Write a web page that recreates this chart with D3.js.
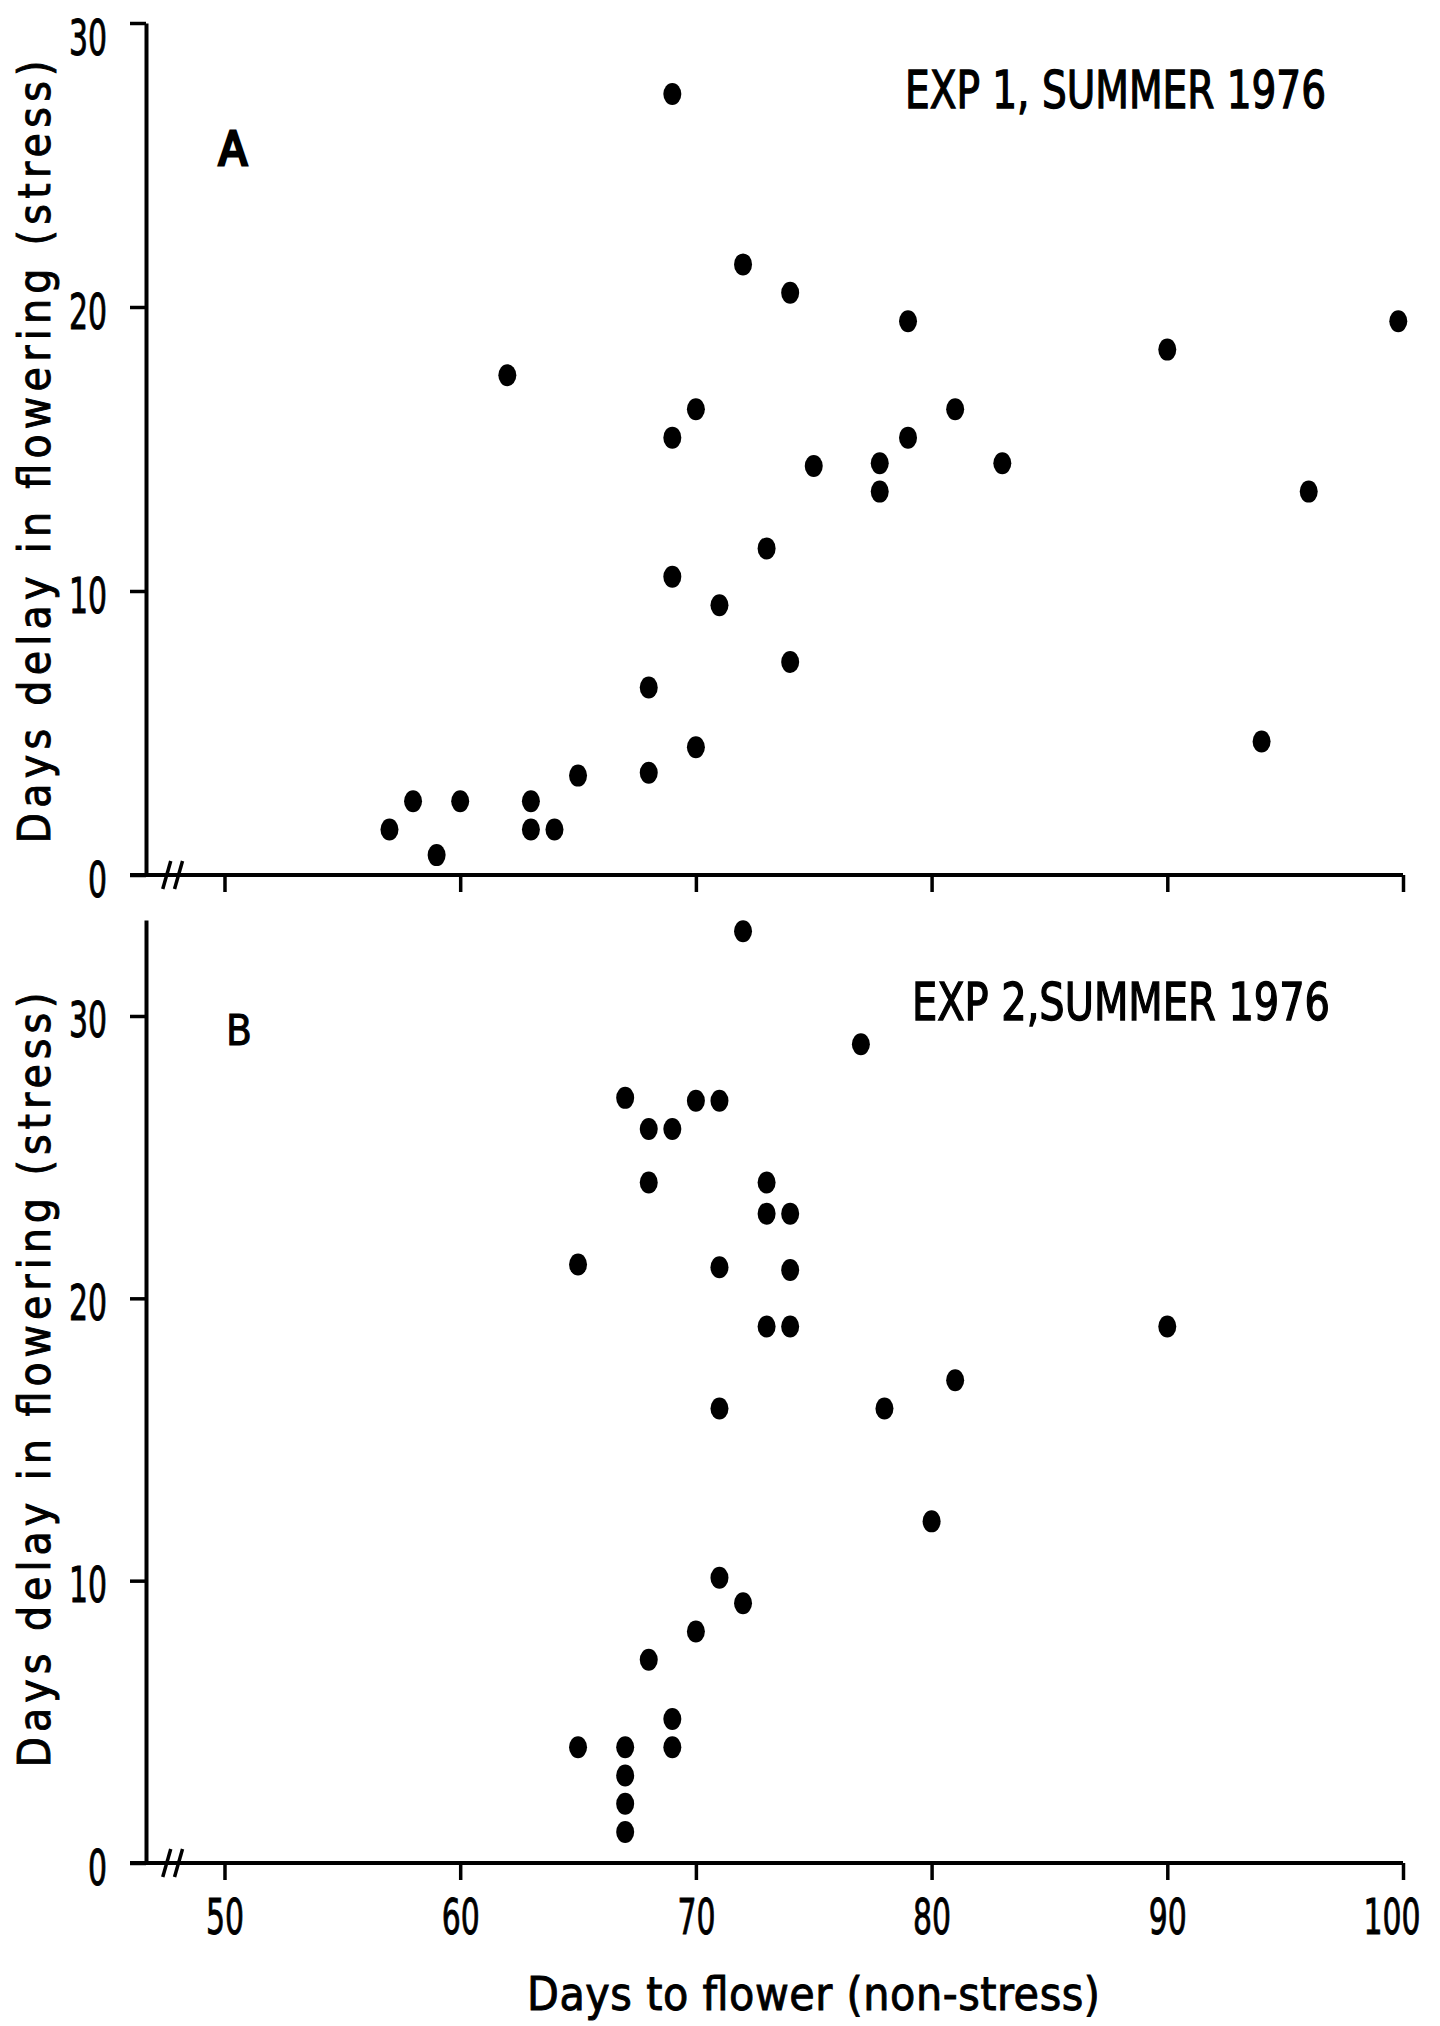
<!DOCTYPE html>
<html>
<head>
<meta charset="utf-8">
<title>Days delay in flowering</title>
<style>
  body { margin:0; background:#fff; }
  svg text { font-family:"DejaVu Sans Condensed","DejaVu Sans",sans-serif; fill:#000; stroke:#000; stroke-width:0.9px; }
  .axis path { stroke:#000; stroke-width:4; }
  .axis line { stroke:#000; stroke-width:3.5; }
  .axis text { font-size:50px; }
</style>
</head>
<body>
<div id="chart"></div>
<script src="https://d3js.org/d3.v7.min.js"></script>
<script>
// values
var exp1Days  = [69,72,74,79,62,70,69,81,75,77.8,79,83,77.8,73,69,71,68,74,70,68,65,57,58,59,60,63,63,64,90,99.8,96,94];
var exp1Delay = [27.5,21.5,20.5,19.5,17.6,16.4,15.4,16.4,14.4,14.5,15.4,14.5,13.5,11.5,10.5,9.5,6.6,7.5,4.5,3.6,3.5,1.6,2.6,0.7,2.6,2.6,1.6,1.6,18.5,19.5,13.5,4.7];
var exp2Days  = [72,77,67,70,71,68,69,68,73,73,74,65,71,74,73,74,90,71,78,81,80,71,72,70,68,69,65,67,69,67,67,67];
var exp2Delay = [33,29,27.1,27,27,26,26,24.1,24.1,23,23,21.2,21.1,21,19,19,19,16.1,16.1,17.1,12.1,10.1,9.2,8.2,7.2,5.1,4.1,4.1,4.1,3.1,2.1,1.1];
var xTicks = [50,60,70,80,90,100];
var yTicks = [0,10,20,30];
var yLabel = "Days delay in flowering (stress)";
var xLabel = "Days to flower (non-stress)";

var W = 1440, H = 2026;
var svg = d3.select("#chart").append("svg").attr("width", W).attr("height", H);

// shared x scale (axis starts a bit before 50, where the break is)
var x = d3.scaleLinear().domain([46.67, 100]).range([146, 1403]);

var panels = [
  {days: exp1Days, delay: exp1Delay, yTop: 30,   y0: 875,  y1: 23,  title: "EXP 1, SUMMER 1976", tx: 905, ty: 108, tw: 421,
   letter: "A", lx: 233, ly: 165, lsize: 46, labelY: 452, labelLen: 783, showX: false},
  {days: exp2Days, delay: exp2Delay, yTop: 33.4, y0: 1863, y1: 920, title: "EXP 2,SUMMER 1976", tx: 912, ty: 1020, tw: 418,
   letter: "B", lx: 239, ly: 1045, lsize: 42, labelY: 1380, labelLen: 775, showX: true}
];

panels.forEach(function(p){
  var y = d3.scaleLinear().domain([0, p.yTop]).range([p.y0, p.y1]);
  var g = svg.append("g");

  // x axis
  var xa = d3.axisBottom(x).tickValues(xTicks).tickSize(17).tickSizeOuter(0).tickPadding(18);
  if (!p.showX) xa.tickFormat("");
  var gx = g.append("g").attr("class","axis").attr("transform","translate(0," + p.y0 + ")").call(xa);
  gx.selectAll("text")
    .attr("textLength", function(d){ return String(d).length * 19; })
    .attr("lengthAdjust","spacingAndGlyphs")
    .attr("text-anchor", function(d){ return d == 100 ? "end" : "middle"; })
    .attr("dx", function(d){ return d == 100 ? 17 : 0; });
  // left stub of the 0 tick
  gx.select(".domain").attr("d", "M" + (x.range()[0] - 16) + ",0H" + x.range()[1]);

  // y axis
  var ya = d3.axisLeft(y).tickValues(yTicks).tickSize(16).tickSizeOuter(0).tickPadding(23);
  var gy = g.append("g").attr("class","axis").attr("transform","translate(" + x.range()[0] + ",0)").call(ya);
  gy.selectAll("text")
    .attr("dy", function(d){ return d == p.yTop ? "0.62em" : "0.42em"; })
    .attr("textLength", function(d){ return String(d).length * 19; })
    .attr("lengthAdjust","spacingAndGlyphs");

  // axis break "//"
  [47.55, 48.05].forEach(function(v){
    g.append("line")
      .attr("x1", x(v) - 4).attr("y1", p.y0 + 14)
      .attr("x2", x(v) + 4).attr("y2", p.y0 - 14)
      .attr("stroke","#000").attr("stroke-width",3.5);
  });

  // points
  g.selectAll("ellipse").data(p.days).enter().append("ellipse")
    .attr("cx", function(d){ return x(d); })
    .attr("cy", function(d,i){ return y(p.delay[i]); })
    .attr("rx", 9).attr("ry", 11)
    .attr("fill","#000");

  // titles and labels
  g.append("text").attr("x", p.tx).attr("y", p.ty)
    .attr("font-size", 52).attr("textLength", p.tw).attr("lengthAdjust","spacingAndGlyphs")
    .style("stroke-width", "1.3px")
    .text(p.title);
  g.append("text").attr("x", p.lx).attr("y", p.ly).attr("text-anchor","middle")
    .attr("font-size", p.lsize)
    .style("stroke-width", p.letter == "A" ? "3px" : "0.9px")
    .text(p.letter);
  g.append("text")
    .attr("transform","translate(50," + p.labelY + ") rotate(-90)")
    .attr("text-anchor","middle").attr("font-size", 44)
    .attr("textLength", p.labelLen).attr("lengthAdjust","spacing")
    .text(yLabel);
});

svg.append("text").attr("x", 527).attr("y", 2010)
  .attr("font-size", 46).attr("textLength", 573).attr("lengthAdjust","spacing")
  .text(xLabel);
</script>
</body>
</html>
